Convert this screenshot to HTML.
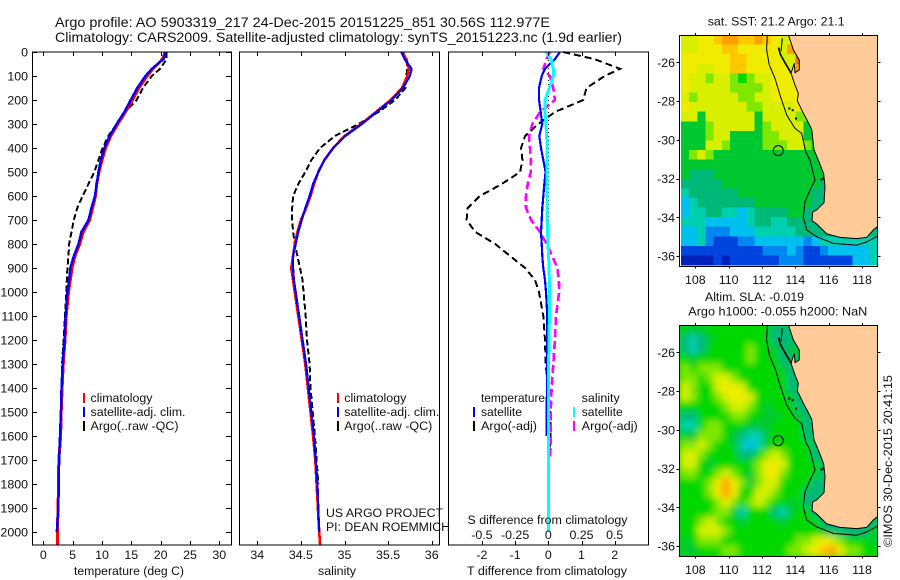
<!DOCTYPE html>
<html lang="en">
<head>
<meta charset="utf-8">
<title>Argo profile 5903319_217</title>
<style>
html,body{margin:0;padding:0;background:#fff;width:900px;height:580px;overflow:hidden}
svg{display:block;font-family:"Liberation Sans",Arial,sans-serif;fill:#000}
text{font-size:12.4px;fill:#111}
</style>
</head>
<body>
<svg id="fig" width="900" height="580" viewBox="0 0 900 580" xmlns="http://www.w3.org/2000/svg">
<defs>
<clipPath id="clip-map1"><rect x="680" y="36" width="197" height="230"/></clipPath>
<clipPath id="clip-map2"><rect x="680" y="326" width="197" height="230"/></clipPath>
<filter id="smooth-field" filterUnits="userSpaceOnUse" x="640" y="300" width="260" height="280"><feGaussianBlur stdDeviation="3.5"/></filter>
</defs>
<g id="map1-cells" shape-rendering="crispEdges" clip-path="url(#clip-map1)"></g>
<g clip-path="url(#clip-map2)">
<g id="map2-cells" filter="url(#smooth-field)">
<rect x="645" y="305" width="255" height="275" fill="#00d800"/>
</g>
</g>
<g id="map1-geo" clip-path="url(#clip-map1)"></g>
<g id="map2-geo" clip-path="url(#clip-map2)"></g>
<g id="marks" shape-rendering="crispEdges"></g>
<g id="axes" shape-rendering="crispEdges"></g>
<g id="labels"></g>

<text x="55" y="27" textLength="495" lengthAdjust="spacingAndGlyphs" style="font-size:14px">Argo profile: AO 5903319_217 24-Dec-2015 20151225_851 30.56S 112.977E</text>
<text x="55" y="42" textLength="567" lengthAdjust="spacingAndGlyphs" style="font-size:14px">Climatology: CARS2009. Satellite-adjusted climatology: synTS_20151223.nc (1.9d earlier)</text>

<text x="74" y="575" textLength="110" lengthAdjust="spacingAndGlyphs">temperature (deg C)</text>
<text x="318" y="575" textLength="38" lengthAdjust="spacingAndGlyphs">salinity</text>
<text x="467" y="575" textLength="160" lengthAdjust="spacingAndGlyphs">T difference from climatology</text>
<text x="467.5" y="524" textLength="160" lengthAdjust="spacingAndGlyphs">S difference from climatology</text>

<g>
<rect x="83" y="393" width="2" height="10" fill="#f00"/>
<rect x="83" y="407" width="2" height="10" fill="#00f"/>
<rect x="83" y="421" width="2" height="10" fill="#000"/>
<text x="90.5" y="402" textLength="62" lengthAdjust="spacingAndGlyphs">climatology</text>
<text x="90.5" y="416" textLength="95" lengthAdjust="spacingAndGlyphs">satellite-adj. clim.</text>
<text x="90.5" y="430" textLength="88" lengthAdjust="spacingAndGlyphs">Argo(..raw -QC)</text>
</g>
<g>
<rect x="337" y="393" width="2" height="10" fill="#f00"/>
<rect x="337" y="407" width="2" height="10" fill="#00f"/>
<rect x="337" y="421" width="2" height="10" fill="#000"/>
<text x="344.3" y="402" textLength="62" lengthAdjust="spacingAndGlyphs">climatology</text>
<text x="344.3" y="416" textLength="95" lengthAdjust="spacingAndGlyphs">satellite-adj. clim.</text>
<text x="344.3" y="430" textLength="88" lengthAdjust="spacingAndGlyphs">Argo(..raw -QC)</text>
<text x="326" y="517" textLength="117" lengthAdjust="spacingAndGlyphs">US ARGO PROJECT</text>
<text x="326" y="531" textLength="124" lengthAdjust="spacingAndGlyphs">PI: DEAN ROEMMICH</text>
</g>
<g>
<text x="481" y="402" textLength="64" lengthAdjust="spacingAndGlyphs">temperature</text>
<text x="481" y="416" textLength="41" lengthAdjust="spacingAndGlyphs">satellite</text>
<text x="481" y="430" textLength="56" lengthAdjust="spacingAndGlyphs">Argo(-adj)</text>
<rect x="473" y="407" width="2" height="10" fill="#00f"/>
<rect x="473" y="421" width="2" height="10" fill="#000"/>
<text x="581.7" y="402" textLength="38" lengthAdjust="spacingAndGlyphs">salinity</text>
<text x="581.7" y="416" textLength="41" lengthAdjust="spacingAndGlyphs">satellite</text>
<text x="581.7" y="430" textLength="56" lengthAdjust="spacingAndGlyphs">Argo(-adj)</text>
<rect x="573" y="407" width="2" height="10" fill="#0ff"/>
<rect x="573" y="421" width="2" height="10" fill="#f0f"/>
</g>

<text x="707.7" y="25.5" textLength="137" lengthAdjust="spacingAndGlyphs">sat. SST: 21.2 Argo: 21.1</text>
<text x="705" y="301" textLength="99" lengthAdjust="spacingAndGlyphs">Altim. SLA: -0.019</text>
<text x="688.3" y="315.5" textLength="179" lengthAdjust="spacingAndGlyphs">Argo h1000: -0.055 h2000: NaN</text>
<text transform="translate(892,547) rotate(-90)" textLength="172" lengthAdjust="spacingAndGlyphs">©IMOS 30-Dec-2015 20:41:15</text>
</svg>

<script>
// ---------- profile data ----------
const depthLevels = [0,30,70,100,150,200,250,300,350,400,450,500,550,600,650,700,750,800,850,900,950,1000,1100,1200,1300,1400,1500,1600,1700,1800,1900,2000,2053];

const tempClim = [20.8,20.3,18.7,17.7,16.3,15.2,14.0,12.7,11.5,10.6,10.0,9.5,9.1,8.9,8.4,7.9,6.8,6.2,5.4,4.9,4.6,4.3,3.9,3.7,3.4,3.2,3.05,2.95,2.65,2.6,2.5,2.4,2.4];
const tempSat = [20.9,20.5,18.5,17.4,16.0,14.9,13.8,12.5,11.3,10.4,9.8,9.4,9.1,8.8,8.2,7.7,6.5,6.0,5.2,4.6,4.4,4.1,3.8,3.6,3.3,3.1,3.0,2.85,2.7,2.65,2.55,2.3];
const tempArgo = [21.0,21.0,19.9,18.5,17.0,15.9,13.9,12.5,11.1,10.1,9.4,8.7,7.7,6.7,5.8,5.2,4.8,4.4,4.3,4.1,4.0,3.9,3.7,3.45,3.2,3.1,3.05,2.95,2.75,2.65];

const salClim = [35.66,35.71,35.74,35.72,35.66,35.53,35.36,35.19,35.00,34.87,34.77,34.70,34.65,34.61,34.56,34.50,34.46,34.43,34.41,34.39,34.41,34.43,34.47,34.51,34.55,34.58,34.61,34.64,34.665,34.68,34.695,34.71,34.72];
const salSat = [35.65,35.69,35.77,35.75,35.67,35.54,35.37,35.20,35.01,34.87,34.77,34.70,34.64,34.60,34.55,34.51,34.47,34.44,34.41,34.41,34.42,34.44,34.48,34.52,34.56,34.59,34.62,34.65,34.67,34.69,34.70,34.71];
const salArgo = [35.67,35.71,35.72,35.71,35.70,35.58,35.39,35.16,34.89,34.72,34.62,34.55,34.47,34.41,34.40,34.40,34.41,34.43,34.46,34.49,34.52,34.53,34.555,34.57,34.60,34.61,34.635,34.66,34.68,34.70];

const diffTSat = [.35,.2,-.1,-.2,-.28,-.28,-.23,-.18,-.27,-.22,-.15,-.08,-.12,-.15,-.18,-.2,-.22,-.2,-.18,-.15,-.1,-.07,-.03,-.04,-.04,-.04,-.05,-.05];
const diffTArgo = [.45,1.4,2.16,1.7,1.15,1.05,.2,-.3,-.7,-.82,-.78,-.85,-1.4,-2.06,-2.43,-2.46,-2.2,-1.6,-1.15,-.7,-.4,-.28,-.15,-.1,-.08,0,.06,.06,.02,.01];
const diffSSat = [-.018,.02,.038,.038,.008,-.025,-.025,-.018,-.012,-.01,-.008,-.008,-.01,-.01,-.01,-.008,-.005,-.002,.002,.005,.008,.008,.008,.005,.002,.002,0,0,0,0,0,0];
const diffSArgo = [.012,-.012,-.038,.012,.038,.05,-.062,-.12,-.145,-.138,-.13,-.132,-.155,-.168,-.168,-.13,-.062,-.012,.03,.068,.08,.082,.058,.05,.038,.025,.018,.018,.015];

// ---------- tick labels ----------
const depthTicks = [0,100,200,300,400,500,600,700,800,900,1000,1100,1200,1300,1400,1500,1600,1700,1800,1900,2000];
const tempTicks = [0,5,10,15,20,25,30];
const salTicks = [34,34.5,35,35.5,36];
const diffTTicks = [-2,-1,0,1,2];
const diffSTicks = [-0.5,-0.25,0,0.25,0.5];
const lonTicks = [108,110,112,114,116,118];
const latTicks = [26,28,30,32,34,36];

// ---------- map data: colour level per cell, north to south, west to east ----------
const sstLevels = [
[9,9,10,10,11,12,12,11,11,12,11,10,9,9],
[9,9,10,10,10,11,11,10,10,10,10,10,9,12,13],
[10,10,10,10,10,10,11,11,10,10,10,10,9,9,13],
[10,10,9,9,10,10,11,11,10,10,10,10,10,9,12],
[10,9,9,8,9,9,8,7,8,9,9,10,10,10,9],
[10,9,9,9,9,9,8,8,8,8,9,10,10,10,10],
[9,8,9,9,9,9,9,8,8,9,9,10,10,10,10],
[10,9,9,9,9,9,9,9,8,8,9,9,9,9,10,8],
[9,9,6,9,9,9,9,9,9,6,9,9,9,9,8,8,6],
[6,6,6,8,9,9,9,9,9,6,8,9,9,9,9,6,6],
[6,6,6,8,9,9,6,6,6,6,8,8,9,9,9,6,6],
[6,6,6,9,9,8,6,6,6,6,8,8,8,9,9,8,6,6],
[6,8,9,8,6,6,6,6,6,6,6,6,6,6,6,6,6,6],
[6,6,6,6,6,6,6,6,6,6,6,6,6,6,6,6,6,6,6],
[6,5,5,5,6,6,6,6,6,6,6,6,6,6,6,6,6,6,5],
[5,5,5,5,5,6,6,6,6,6,6,6,6,6,6,6,6,5,5],
[4,5,5,5,5,5,5,6,6,6,6,6,6,6,6,6,5,5,5],
[3,4,5,5,5,5,5,5,5,6,6,6,6,6,6,6,5,5,5],
[3,4,4,5,5,4,4,3,4,5,5,5,5,6,6,5,5,5,4],
[4,4,4,3,3,3,3,3,4,5,5,4,4,5,5,5,5,5],
[3,3,4,2,2,2,3,3,3,4,4,4,4,4,5,5,5,5,5,5,5,5,5,5],
[3,3,4,2,1,1,1,2,2,3,3,3,3,3,3,2,3,4,4,4,4,4,4,4],
[1,1,1,1,1,1,1,1,1,1,2,2,2,3,2,1,1,2,3,3,3,3,3,4],
[0,0,0,0,1,0,1,1,1,1,1,1,2,2,2,1,1,1,1,1,1,3,3,4]
];
const slaLevels = [
[6,6,6,7,7,7,7,7,7,7,7,5,5,5,5],
[5,4,5,6,7,7,7,7,7,7,7,5,5,5,5],
[5,4,5,7,7,7,7,7,8,7,7,6,5,6,6],
[7,6,7,7,7,7,7,7,8,7,7,7,5,5,6],
[8,7,8,8,8,7,7,7,7,7,7,7,6,5,5,5],
[8,8,7,8,9,9,8,7,7,7,7,7,7,5,5,5],
[9,8,7,7,9,10,10,9,7,7,7,7,7,5,5,5],
[9,8,7,7,8,9,10,10,9,7,7,7,7,6,5,5,5],
[7,7,7,7,7,8,9,9,8,7,6,7,7,7,5,5,5],
[5,5,7,7,7,7,8,8,7,7,6,6,7,7,6,5,5,5],
[4,4,7,8,8,7,7,7,6,6,6,7,7,7,7,5,5,5,5],
[6,6,8,8,8,7,6,5,4,4,6,7,7,7,7,5,5,5,5],
[8,8,9,8,7,7,6,4,3,4,6,7,7,7,7,7,5,5,5],
[9,9,8,7,7,7,7,5,5,7,8,9,8,7,7,7,5,5,5,5],
[9,9,7,6,7,7,7,7,7,8,10,10,9,7,7,7,7,5,5,5],
[8,8,7,7,8,9,8,7,6,8,10,10,8,7,7,7,7,5,5,5],
[7,7,7,8,10,12,10,8,6,8,9,9,7,7,7,7,5,5,5,5],
[7,7,7,8,10,12,10,7,7,9,9,8,7,7,7,5,5,5,5],
[7,7,7,7,8,10,8,7,8,9,8,7,7,6,7,5,5,5,5,5],
[7,7,7,7,8,8,6,4,7,7,7,5,4,6,7,7,5,5,5,5,5,5,5,5],
[7,7,8,9,8,7,7,6,7,7,7,7,6,7,7,7,7,5,5,5,5,5,5,5],
[7,7,9,9,9,8,7,7,7,7,7,7,7,7,7,7,7,6,5,5,5,5,5,6],
[6,7,8,8,8,7,7,7,7,7,7,7,7,7,8,8,9,10,9,8,7,7,7,6],
[6,6,7,7,7,8,8,7,7,7,7,7,7,8,8,9,10,11,12,10,8,8,7,7]
];
const colorScale = ['#0022b8','#0044e0','#0088f0','#00c0f0','#00d0b0','#00b878','#00c830','#00d800','#80e800','#d8f000','#f0ec00','#ffc800','#ffa000','#e07020'];

const coastLon = [113.58,113.72,113.88,114.24,114.24,113.98,113.94,113.74,113.98,114.18,114.12,114.48,114.72,114.98,115.12,115.42,115.70,115.78,115.72,115.28,115.04,115.0,115.28,115.88,116.68,117.68,118.28,118.68,118.92,119.2,119.2];
const coastLat = [24.59,24.93,25.36,25.88,26.40,26.53,26.05,26.57,27.17,27.60,27.98,28.63,29.01,29.46,30.53,31.13,31.77,32.42,33.25,33.62,33.73,34.18,34.35,34.86,35.04,35.10,35.04,34.66,34.49,34.4,24.59];
const shelfLon = [112.32,112.28,112.44,112.78,113.08,113.48,113.98,114.38,114.62,114.88,115.18,114.88,114.58,114.48,114.68,115.28,116.28,117.68,118.28,118.92];
const shelfLat = [24.59,25.36,26.14,26.83,27.69,28.72,29.41,29.67,30.62,31.05,32.08,32.60,33.20,33.98,34.66,35.01,35.35,35.44,35.27,34.98];
const bayLon = [113.0,113.1,113.38,113.68,113.74];
const bayLat = [25.24,25.58,26.02,26.46,26.57];
const islandLon = [113.22,113.18,113.14];
const islandLat = [24.76,25.1,25.42];
const rocksLon = [113.58,113.78,113.98,115.5,115.62];
const rocksLat = [28.33,28.42,28.85,32.0,31.95];
const floatLon = 112.977;
const floatLat = 30.56;

// ---------- scales ----------
const NS = 'http://www.w3.org/2000/svg';
const yDepth = d => 52 + d * 0.24;
const xTemp = t => 43.3 + t * 5.867;
const xSal = s => 257.3 + (s - 34) * 87.2;
const xDiffT = t => 548.3 + t * 33.2;
const xDiffS = s => 548.3 + s * 132.8;
const xLon = lon => 695.3 + (lon - 108) * 16.67;
const yLat = (lat, off) => 62.3 + off + (lat - 26) * 19.37;

function add(parent, tag, attrs, name) {
  const el = document.createElementNS(NS, tag);
  for (const k in attrs) el.setAttribute(k, attrs[k]);
  
  
  parent.appendChild(el);
  return el;
}
const marks = document.getElementById('marks');
const axes = document.getElementById('axes');
const labels = document.getElementById('labels');

function profile(values, xf, color, width, dash, name) {
  const pts = values.map((v, i) => xf(v).toFixed(1) + ',' + yDepth(depthLevels[i]).toFixed(1)).join(' ');
  const a = {points: pts, fill: 'none', stroke: color, 'stroke-width': width};
  if (dash) a['stroke-dasharray'] = dash;
  add(marks, 'polyline', a, name);
}

// ---------- profile series ----------
profile(tempArgo, xTemp, '#000', 2, '6 3', 'temperature-argo-line');
profile(tempClim, xTemp, '#f00', 3, null, 'temperature-climatology-line');
profile(tempSat, xTemp, '#00f', 2.4, null, 'temperature-satellite-line');
profile(salArgo, xSal, '#000', 2, '6 3', 'salinity-argo-line');
profile(salClim, xSal, '#f00', 2.6, null, 'salinity-climatology-line');
profile(salSat, xSal, '#00f', 2.2, null, 'salinity-satellite-line');

add(marks, 'line', {x1: xDiffT(0), x2: xDiffT(0), y1: 52, y2: yDepth(1400), stroke: '#000', 'stroke-width': 1, 'stroke-dasharray': '1 3'}, 'zero-difference-line');
profile(diffTArgo, xDiffT, '#000', 2, '7 4', 'difference-t-argo-line');
profile(diffSArgo, xDiffS, '#f0f', 2.6, '8 4', 'difference-s-argo-line');
profile(diffTSat, xDiffT, '#00f', 2.2, null, 'difference-t-satellite-line');
profile(diffSSat, xDiffS, '#0ff', 3, null, 'difference-s-satellite-line');

// ---------- axes ----------
function line(x1, y1, x2, y2, name) {
  add(axes, 'line', {x1, y1, x2, y2, stroke: '#000', 'stroke-width': 1}, name);
}
function box(l, t, r, b, name) {
  add(axes, 'rect', {x: l, y: t, width: r - l, height: b - t, fill: 'none', stroke: '#000', 'stroke-width': 1}, name);
}
function label(x, y, txt, anchor, name) {
  const el = add(labels, 'text', {x, y, 'text-anchor': anchor}, name);
  el.textContent = txt;
}
const panelTop = 52, panelBottom = 545;
box(32.5, panelTop, 231.5, panelBottom, 'temperature-panel-frame');
box(239.5, panelTop, 439.5, panelBottom, 'salinity-panel-frame');
box(448.5, panelTop, 648.5, panelBottom, 'difference-panel-frame');

depthTicks.forEach(d => {
  const y = Math.round(yDepth(d)) + 0.5;
  line(32.5, y, 37, y, 'depth-tick-left');
  line(226, y, 231.5, y, 'depth-tick-right');
  label(28, yDepth(d) + 4.5, String(d), 'end', 'depth-tick-label');
});
function xAxis(ticks, xf, prefix) {
  ticks.forEach(v => {
    const x = Math.round(xf(v)) + 0.5;
    line(x, panelTop, x, panelTop + 4, prefix + '-tick-top');
    line(x, panelBottom - 4, x, panelBottom, prefix + '-tick-bottom');
    label(xf(v), 559, String(v), 'middle', prefix + '-tick-label');
  });
}
xAxis(tempTicks, xTemp, 'temperature');
xAxis(salTicks, xSal, 'salinity');
xAxis(diffTTicks, xDiffT, 'difference-t');
diffSTicks.forEach(v => label(xDiffS(v), 539, String(v), 'middle', 'difference-s-tick-label'));

// ---------- maps ----------
function pts(lons, lats, off) {
  return lons.map((lo, i) => xLon(lo).toFixed(1) + ',' + yLat(lats[i], off).toFixed(1)).join(' ');
}
function drawMap(levels, cellsId, geoId, off, prefix) {
  const cells = document.getElementById(cellsId);
  const geo = document.getElementById(geoId);
  const cw = 196 / 24, ch = 230 / 24, gridX = 681, gridY = 35 + off;
  levels.forEach((row, r) => row.forEach((v, c) => {
    add(cells, 'rect', {
      x: (gridX + c * cw).toFixed(2),
      y: (gridY + r * ch).toFixed(2),
      width: (cw + 0.5).toFixed(2),
      height: (ch + 0.5).toFixed(2),
      fill: colorScale[v]
    }, prefix + '-cell');
  }));
  add(geo, 'polygon', {points: pts(coastLon, coastLat, off), fill: '#ffcc99', stroke: '#000', 'stroke-width': 1}, prefix + '-land');
  add(geo, 'polyline', {points: pts(shelfLon, shelfLat, off), fill: 'none', stroke: '#000', 'stroke-width': 1}, prefix + '-shelf-contour');
  add(geo, 'polyline', {points: pts(bayLon, bayLat, off), fill: 'none', stroke: '#000', 'stroke-width': 1.6}, prefix + '-bay-coast');
  add(geo, 'polyline', {points: pts(islandLon, islandLat, off), fill: 'none', stroke: '#000', 'stroke-width': 1}, prefix + '-island');
  rocksLon.forEach((lo, i) => add(geo, 'rect', {x: xLon(lo), y: yLat(rocksLat[i], off), width: 2, height: 2, fill: '#000'}, prefix + '-rock'));
  add(geo, 'circle', {cx: xLon(floatLon), cy: yLat(floatLat, off), r: 5, fill: 'none', stroke: '#000', 'stroke-width': 1}, prefix + '-float-position');

  const top = 35 + off, bottom = 266.5 + off, left = 679.5, right = 877.5;
  box(left, top + 0.5, right, bottom, prefix + '-frame');
  lonTicks.forEach(lo => {
    const x = Math.round(xLon(lo)) + 0.5;
    line(x, top - 2, x, top, prefix + '-lon-tick-top');
    line(x, bottom, x, bottom + 2, prefix + '-lon-tick-bottom');
    label(xLon(lo), 284 + off, String(lo), 'middle', prefix + '-lon-label');
  });
  latTicks.forEach(la => {
    const y = Math.round(yLat(la, off)) + 0.5;
    line(left - 3, y, left, y, prefix + '-lat-tick-left');
    line(right, y, right + 3, y, prefix + '-lat-tick-right');
    label(675, yLat(la, off) + 4.5, '-' + la, 'end', prefix + '-lat-label');
  });
}
drawMap(sstLevels, 'map1-cells', 'map1-geo', 0, 'sst-map');
drawMap(slaLevels, 'map2-cells', 'map2-geo', 290, 'sla-map');
</script>
</body>
</html>
